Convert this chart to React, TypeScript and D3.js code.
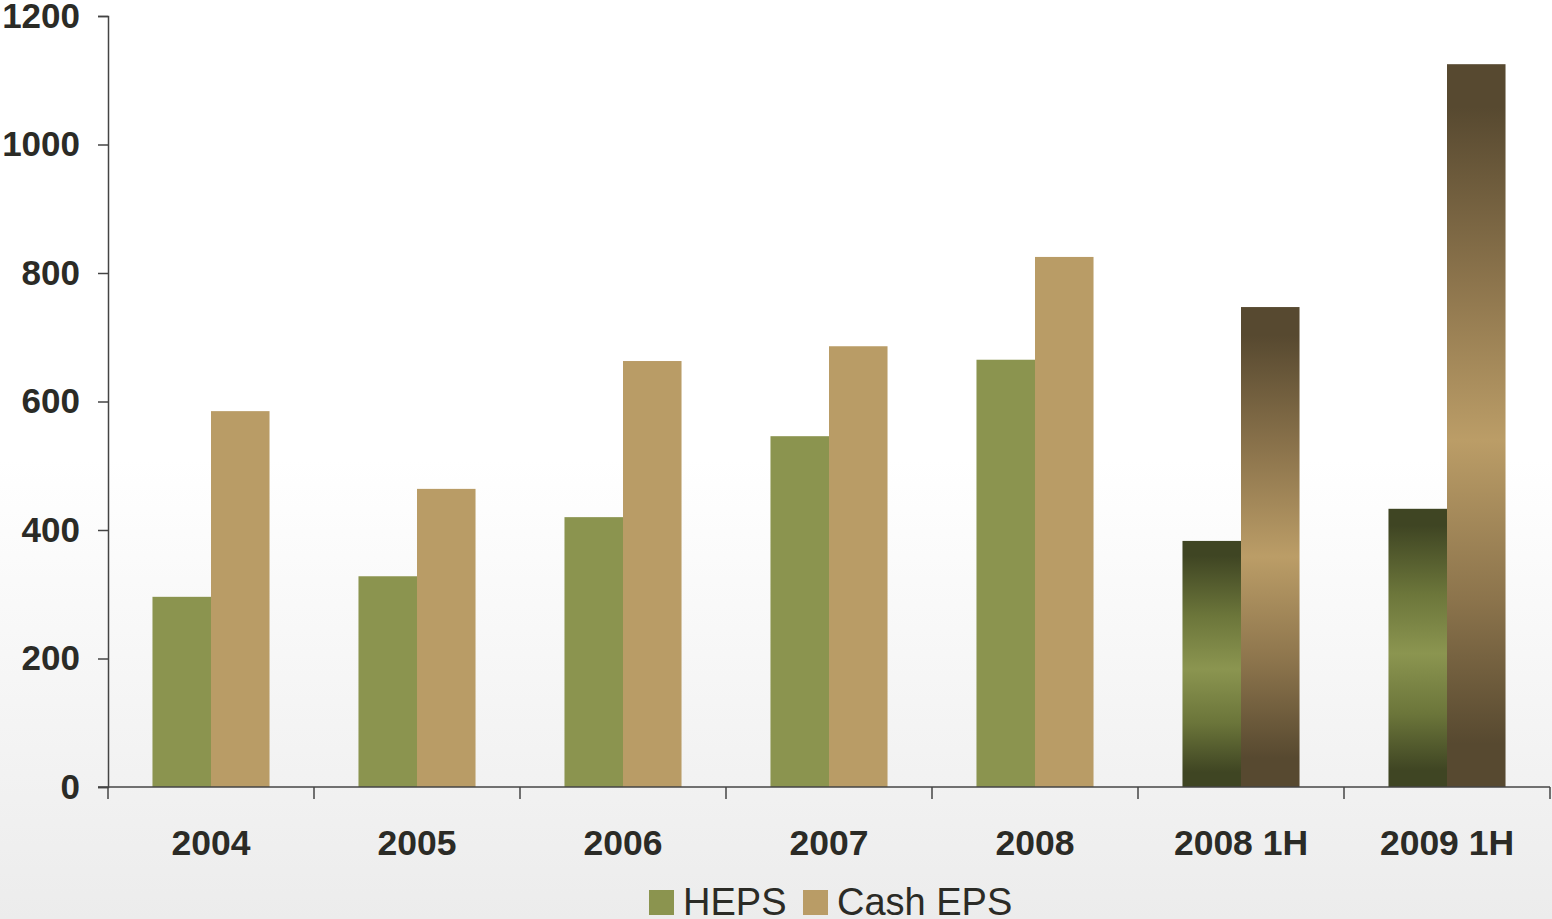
import React, { useEffect, useRef } from 'react';
import * as d3 from 'd3';

const categories = ['2004', '2005', '2006', '2007', '2008', '2008 1H', '2009 1H'];
const seriesNames = ['HEPS', 'Cash EPS'];
const hepsValues = [296, 328, 420, 546, 665, 383, 433];
const cashEpsValues = [585, 464, 663, 686, 825, 747, 1125];
const yTicks = [0, 200, 400, 600, 800, 1000, 1200];
// the half-year bars are drawn with a shaded gradient
const shadedCategories = ['2008 1H', '2009 1H'];

const WIDTH = 1552;
const HEIGHT = 919;
const FONT = '"Liberation Sans", Arial, sans-serif';

const App: React.FC = () => {
  const svgRef = useRef<SVGSVGElement>(null);

  useEffect(() => {
    if (!svgRef.current) return;
    const svg = d3.select(svgRef.current);
    svg.selectAll('*').remove();

    const margin = { left: 108, right: 2, top: 16, bottom: 132 };
    const plotBottom = HEIGHT - margin.bottom;

    const defs = svg.append('defs');
    const bg = defs.append('linearGradient').attr('id', 'bgGrad')
      .attr('x1', 0).attr('y1', 0).attr('x2', 0).attr('y2', 1);
    bg.append('stop').attr('offset', '0%').attr('stop-color', '#ffffff');
    bg.append('stop').attr('offset', '50%').attr('stop-color', '#ffffff');
    bg.append('stop').attr('offset', '100%').attr('stop-color', '#ececec');

    const shade = (id: string, dark: string, mid: string, light: string) => {
      const g = defs.append('linearGradient').attr('id', id)
        .attr('x1', 0).attr('y1', 0).attr('x2', 0).attr('y2', 1);
      [[0, dark], [0.06, dark], [0.3, mid], [0.52, light], [0.74, mid], [0.94, dark], [1, dark]]
        .forEach(([o, c]) => g.append('stop').attr('offset', o as number).attr('stop-color', c as string));
    };
    shade('greenShade', '#3f4523', '#6b753a', '#8b9550');
    shade('brownShade', '#574930', '#8c744c', '#bb9d67');

    svg.append('rect').attr('width', WIDTH).attr('height', HEIGHT).attr('fill', 'url(#bgGrad)');

    const x0 = d3.scaleBand<string>()
      .domain(categories)
      .range([margin.left, WIDTH - margin.right])
      .padding(0);
    const x1 = d3.scaleBand<string>()
      .domain(seriesNames)
      .range([0, x0.bandwidth()])
      .paddingInner(0)
      .paddingOuter(0.76);
    const y = d3.scaleLinear().domain([0, 1200]).range([plotBottom, margin.top]);

    const flatColor: Record<string, string> = { 'HEPS': '#8b944f', 'Cash EPS': '#b99c66' };
    const shadeFill: Record<string, string> = { 'HEPS': 'url(#greenShade)', 'Cash EPS': 'url(#brownShade)' };

    const rows = categories.map((c, i) => ({
      category: c,
      values: [
        { series: 'HEPS', value: hepsValues[i] },
        { series: 'Cash EPS', value: cashEpsValues[i] },
      ],
    }));

    const groups = svg.append('g').selectAll('g')
      .data(rows)
      .join('g')
      .attr('transform', d => `translate(${x0(d.category)},0)`);

    groups.selectAll('rect')
      .data(d => d.values.map(v => ({ ...v, category: d.category })))
      .join('rect')
      .attr('x', d => x1(d.series)!)
      .attr('y', d => y(d.value))
      .attr('width', x1.bandwidth())
      .attr('height', d => plotBottom - y(d.value))
      .attr('fill', d => shadedCategories.includes(d.category) ? shadeFill[d.series] : flatColor[d.series]);

    // y axis
    const yAxis = svg.append('g')
      .attr('transform', `translate(${margin.left},0)`)
      .call(d3.axisLeft(y).tickValues(yTicks).tickSize(10).tickPadding(18).tickFormat(d3.format('d')));
    yAxis.select('.domain').attr('stroke', '#444').attr('stroke-width', 1.5);
    yAxis.selectAll('.tick line').attr('stroke', '#444').attr('stroke-width', 1.5);
    yAxis.selectAll('.tick text')
      .attr('font-family', FONT).attr('font-size', 35).attr('font-weight', 'bold').attr('fill', '#2b2b26');

    // x axis with ticks at the band edges
    const edges = categories.map(c => x0(c)!).concat([x0.range()[1]]);
    const xAxis = svg.append('g');
    xAxis.append('line')
      .attr('x1', margin.left - 10).attr('x2', x0.range()[1])
      .attr('y1', plotBottom).attr('y2', plotBottom)
      .attr('stroke', '#444').attr('stroke-width', 1.5);
    xAxis.selectAll('line.tk')
      .data(edges)
      .join('line')
      .attr('class', 'tk')
      .attr('x1', d => d).attr('x2', d => d)
      .attr('y1', plotBottom).attr('y2', plotBottom + 12)
      .attr('stroke', '#444').attr('stroke-width', 1.5);
    xAxis.selectAll('text')
      .data(categories)
      .join('text')
      .attr('x', d => x0(d)! + x0.bandwidth() / 2)
      .attr('y', plotBottom + 68)
      .attr('text-anchor', 'middle')
      .attr('font-family', FONT).attr('font-size', 35.5).attr('font-weight', 'bold').attr('fill', '#2b2b26')
      .text(d => d);

    // legend
    const legend = svg.append('g');
    const legendItems = [
      { name: 'HEPS', x: 649 },
      { name: 'Cash EPS', x: 803 },
    ];
    legendItems.forEach(it => {
      legend.append('rect')
        .attr('x', it.x).attr('y', 890).attr('width', 25).attr('height', 25)
        .attr('fill', flatColor[it.name]);
      legend.append('text')
        .attr('x', it.x + 34).attr('y', 915)
        .attr('font-family', FONT).attr('font-size', 38).attr('fill', '#2b2b26')
        .text(it.name);
    });
  }, []);

  return (
    <svg
      ref={svgRef}
      width={WIDTH}
      height={HEIGHT}
      style={{ position: 'absolute', left: 0, top: 0, display: 'block' }}
    />
  );
};

export default App;
